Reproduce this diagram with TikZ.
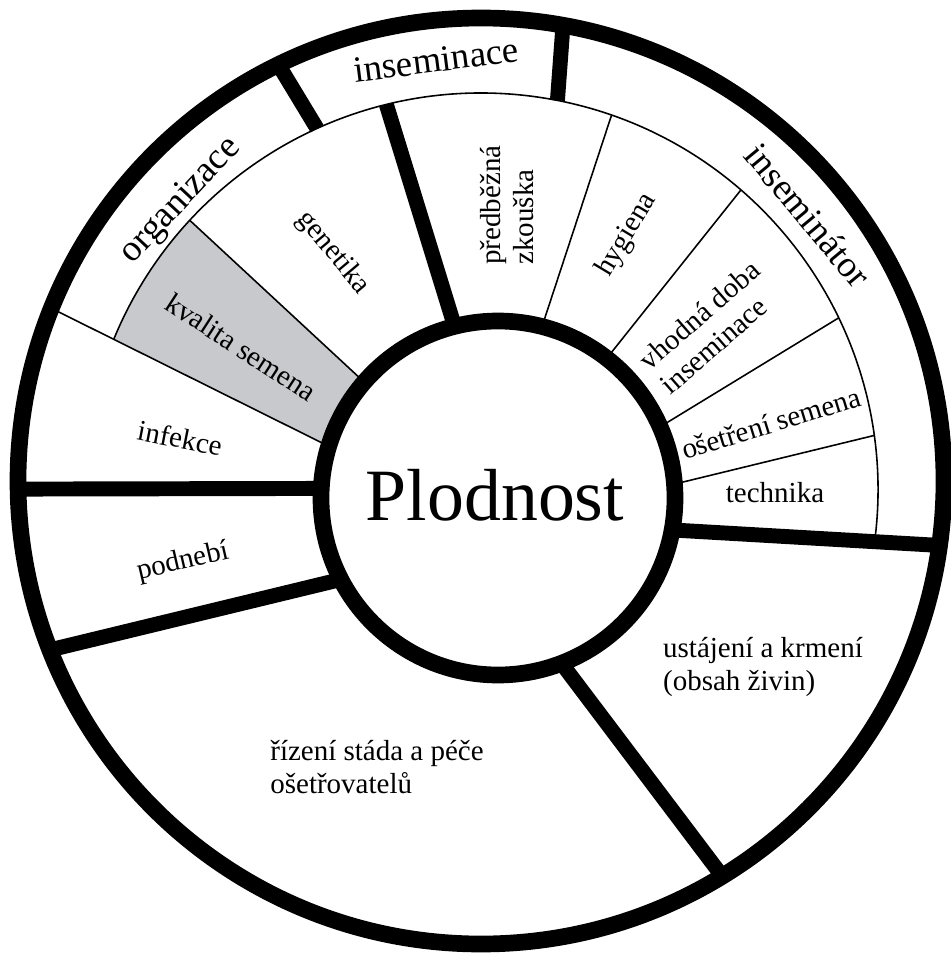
\documentclass[tikz,border=0pt]{standalone}
\usepackage{fontspec}
\setmainfont{Liberation Serif}
\definecolor{kvalgray}{RGB}{200,201,205}

\begin{document}
\begin{tikzpicture}[
    x=0.02cm, y=0.02cm,
    rim/.style={line width=9.5pt, draw=black},
    spoke/.style={line width=8.5pt},
    divider/.style={line width=0.9pt},
    lbl/.style={font=\fontsize{16.5}{18.5}\selectfont, inner sep=0pt},
    ringlbl/.style={font=\fontsize{21}{24}\selectfont, inner sep=0pt},
    title/.style={font=\fontsize{42}{48}\selectfont, inner sep=0pt}
]
\useasboundingbox (0,0) rectangle (950,-959);

% Centres of the three circles
\coordinate (outc) at (481,-481);
\coordinate (ringc) at (481,-490);
\coordinate (inc) at (498,-498);

% Shaded sector
\fill[kvalgray] ([shift={(137.2:397)}]ringc) arc[start angle=137.2, end angle=157.6, radius=397]
    -- ([shift={(163:177)}]inc) -- ([shift={(139.1:177)}]inc) -- cycle;

% Thin ring and dividers
\draw[divider] ([shift={(-8:397)}]ringc) arc[start angle=-8, end angle=157.6, radius=397];
\draw[divider] ([shift={(158.1:463)}]outc) -- ([shift={(163:177)}]inc);
\draw[divider] ([shift={(137.2:397)}]ringc) -- ([shift={(139.1:177)}]inc);
\draw[divider] ([shift={(70.8:397)}]ringc) -- ([shift={(75.6:177)}]inc);
\draw[divider] ([shift={(49.1:397)}]ringc) -- ([shift={(52.1:177)}]inc);
\draw[divider] ([shift={(25.7:397)}]ringc) -- ([shift={(23.7:177)}]inc);
\draw[divider] ([shift={(7.9:397)}]ringc) -- ([shift={(4.5:177)}]inc);

% Thick spokes
\draw[spoke] ([shift={(115.95:463)}]outc) -- ([shift={(114.4:397)}]ringc);
\draw[spoke] ([shift={(79.8:463)}]outc) -- ([shift={(78.9:397)}]ringc);
\draw[spoke] ([shift={(103.8:397)}]ringc) -- ([shift={(104.2:177)}]inc);
\draw[spoke] ([shift={(181:463)}]outc) -- ([shift={(176.9:177)}]inc);
\draw[spoke] ([shift={(201.4:463)}]outc) -- ([shift={(207.4:177)}]inc);
\draw[spoke] ([shift={(-58.6:463)}]outc) -- ([shift={(-69:177)}]inc);
\draw[spoke] ([shift={(-8:463)}]outc) -- ([shift={(-10.4:177)}]inc);

% Rims
\draw[rim] (outc) circle[radius=463];
\draw[rim, fill=white] (inc) circle[radius=177];

% Labels
\node[title] (plod) at (495,-495) {Plodnost};
\node[ringlbl, rotate=47] (org) at (181,-201) {organizace};
\node[ringlbl, rotate=7.3] (ins) at (436,-60) {inseminace};
\node[ringlbl, rotate=-50.3] (insr) at (808,-215) {inseminátor};
\node[lbl, rotate=-50] (gen) at (333,-253) {genetika};
\node[lbl, rotate=-33] (kval) at (241,-347) {kvalita semena};
\node[lbl, rotate=-11] (inf) at (180,-438) {infekce};
\node[lbl, rotate=13] (podn) at (183,-562) {podnebí};
\node[lbl, rotate=90, align=left] (zk) at (507,-205) {předběžná\\zkouška};
\node[lbl, rotate=59] (hyg) at (627,-235) {hygiena};
\node[lbl, rotate=41, align=left] (doba) at (710,-327) {vhodná doba\\inseminace};
\node[lbl, rotate=17] (oset) at (771,-423) {ošetření semena};
\node[lbl] (tech) at (775,-493) {technika};
\node[lbl, align=left] (ustaj) at (763,-667) {ustájení a krmení\\(obsah živin)};
\node[lbl, align=left] (rizeni) at (377,-767) {řízení stáda a péče\\ošetřovatelů};

\end{tikzpicture}
\end{document}
